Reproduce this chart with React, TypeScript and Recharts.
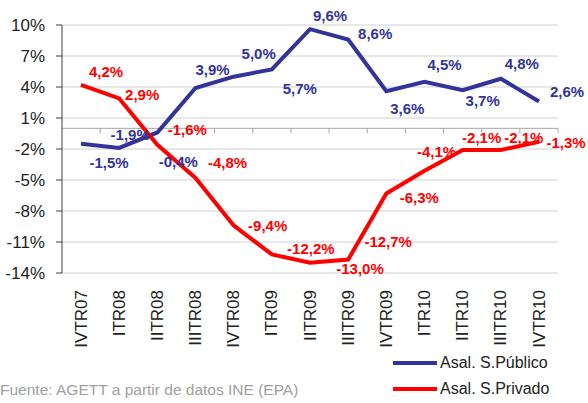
import { LineChart, Line, XAxis, YAxis, CartesianGrid, ReferenceLine, LabelList, Legend } from "recharts";

const quarters = ["IVTR07", "ITR08", "IITR08", "IIITR08", "IVTR08", "ITR09", "IITR09", "IIITR09", "IVTR09", "ITR10", "IITR10", "IIITR10", "IVTR10"];
const publico = [-1.5, -1.9, -0.4, 3.9, 5.0, 5.7, 9.6, 8.6, 3.6, 4.5, 3.7, 4.8, 2.6];
const privado = [4.2, 2.9, -1.6, -4.8, -9.4, -12.2, -13.0, -12.7, -6.3, -4.1, -2.1, -2.1, -1.3];
const yTicks = [-14, -11, -8, -5, -2, 1, 4, 7, 10];

// label offsets (dx, dy) from each point, as placed in the original
const pubOffsets = [[28, 19], [11, -13], [21, 29], [17, -19], [25, -23], [28, 19], [20, -14], [27, -6], [21, 17], [20, -17], [20, 10], [21, -15], [28, -10]];
const privOffsets = [[25, -13], [23, -4], [30, -15], [32, -15], [34, 0], [39, -6], [50, 6], [40, -18], [33, 4], [12, -19], [19, -13], [23, -13], [27, 1]];

const BLUE = "#333399";
const RED = "#ff0000";
const FONT = "'Liberation Sans', Arial, sans-serif";

const data = quarters.map((q, i) => ({ q, publico: publico[i], privado: privado[i] }));

const fmt = (v: number) => v.toFixed(1).replace(".", ",") + "%";

const makeLabel = (offsets: number[][], color: string) => (props: any) => {
    const { x, y, value, index } = props;
    const [dx, dy] = offsets[index] || [0, 0];
    return (
        <text x={x + dx} y={y + dy} textAnchor="middle" dominantBaseline="central"
            fill={color} fontSize={15} fontWeight="bold" fontFamily={FONT}>
            {fmt(value)}
        </text>
    );
};

const QuarterTick = (props: any) => {
    const { x, y, payload } = props;
    return (
        <text transform={`translate(${x},${y + 15}) rotate(-90)`} textAnchor="end" dominantBaseline="central"
            fill="#222" fontSize={17} fontFamily={FONT}>
            {payload.value}
        </text>
    );
};

// zero line with tick marks between categories (category axis crossing)
const ZeroAxis = (props: any) => {
    const { x1, y1, x2 } = props;
    const step = (x2 - x1) / quarters.length;
    return (
        <g>
            <line x1={x1} y1={y1} x2={x2} y2={y1} stroke="#a6a6a6" strokeWidth={1} />
            {quarters.map((_, i) => (
                <line key={i} x1={x1 + step * (i + 1)} y1={y1} x2={x1 + step * (i + 1)} y2={y1 + 5} stroke="#a6a6a6" />
            ))}
        </g>
    );
};

const LegendBox = () => (
    <div style={{ fontFamily: FONT, fontSize: 16, color: "#222" }}>
        {[["Asal. S.Público", BLUE], ["Asal. S.Privado", RED]].map(([name, c]) => (
            <div key={name} style={{ display: "flex", alignItems: "center", height: 26 }}>
                <div style={{ width: 44, height: 4, background: c, marginRight: 3 }} />
                <span>{name}</span>
            </div>
        ))}
    </div>
);

export default function App() {
    return (
        <div style={{ position: "absolute", left: 0, top: 0, width: 588, height: 403, background: "#fff" }}>
            <LineChart width={588} height={403} data={data} margin={{ top: 25, right: 30, left: 0, bottom: 0 }}>
                <CartesianGrid horizontal vertical={false} stroke="#d0d0d0" />
                <XAxis dataKey="q" interval={0} height={130} axisLine={false} tickLine={false}
                    tickSize={0} tick={<QuarterTick />} padding={{ left: 19, right: 19 }} />
                <YAxis domain={[-14, 10]} ticks={yTicks} width={62} interval={0}
                    tickFormatter={(v: number) => `${v}%`}
                    axisLine={{ stroke: "#404040" }} tickLine={{ stroke: "#404040" }} tickSize={6} tickMargin={11}
                    tick={{ fill: "#222", fontSize: 17, fontFamily: FONT }} />
                <ReferenceLine y={0} shape={<ZeroAxis />} />
                <Legend layout="vertical" align="center" verticalAlign="middle"
                    wrapperStyle={{ left: 393, top: 350, width: 190, height: 52 }} content={<LegendBox />} />
                <Line type="linear" dataKey="publico" stroke={BLUE} strokeWidth={4} dot={false} isAnimationActive={false}>
                    <LabelList dataKey="publico" content={makeLabel(pubOffsets, BLUE)} />
                </Line>
                <Line type="linear" dataKey="privado" stroke={RED} strokeWidth={4} dot={false} isAnimationActive={false}>
                    <LabelList dataKey="privado" content={makeLabel(privOffsets, RED)} />
                </Line>
            </LineChart>
            <div style={{ position: "absolute", left: 0, top: 381, fontFamily: FONT, fontSize: 15.5, color: "#a0a0a0", whiteSpace: "nowrap" }}>
                Fuente: AGETT a partir de datos INE (EPA)
            </div>
        </div>
    );
}
